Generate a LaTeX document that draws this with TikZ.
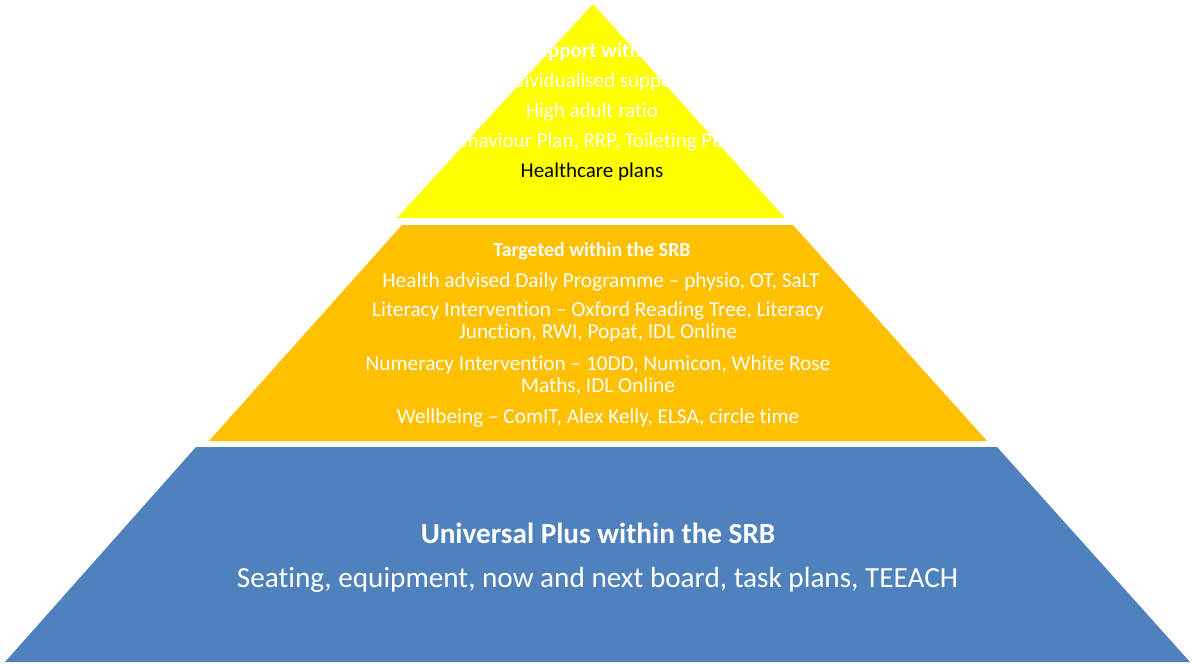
\documentclass[tikz,border=0pt]{standalone}
\usepackage{fontspec}
\setmainfont{Carlito}[Ligatures={NoCommon}]
\definecolor{pyyellow}{HTML}{FFFF00}
\definecolor{pyorange}{HTML}{FFC000}
\definecolor{pyblue}{HTML}{4F81BD}
\begin{document}
\begin{tikzpicture}[x=1pt,y=-1pt,
  toptxt/.style={anchor=base,text=white,inner sep=0pt,font=\fontsize{21}{24}\selectfont},
  midtxt/.style={anchor=base,text=white,inner sep=0pt,align=center,font=\fontsize{21.3}{21.5}\selectfont},
  bottxt/.style={anchor=base,text=white,inner sep=0pt,font=\fontsize{29.2}{30}\selectfont}]
\useasboundingbox[fill=white] (0,0) rectangle (1192,664);
% tiers
\fill[pyyellow] (593,4) -- (397,218) -- (785,218) -- cycle;
\fill[pyorange] (402,225) -- (793,225) -- (987,441) -- (209,441) -- cycle;
\fill[pyblue] (196,447) -- (997,447) -- (1190,662) -- (5,662) -- cycle;
% top tier text
\begin{scope}
\clip (593,4) -- (397,218) -- (785,218) -- cycle;
\node[toptxt,font=\bfseries\fontsize{21}{24}\selectfont] (t1) at (592,57) {Support within};
\node[toptxt] (t2) at (592,87) {Individualised support};
\node[toptxt] (t3) at (592,117) {High adult ratio};
\node[toptxt] (t4) at (592,147) {Behaviour Plan, RRP, Toileting Plan};
\end{scope}
\node[toptxt,text=black] (t5) at (592,177) {Healthcare plans};
% middle tier text
\node[midtxt,font=\bfseries\fontsize{19.9}{21}\selectfont] (m1) at (592,256) {Targeted within the SRB};
\node[midtxt] (m2) at (601,287) {Health advised Daily Programme – physio, OT, SaLT};
\node[midtxt] (m3) at (598,338) {Literacy Intervention – Oxford Reading Tree, Literacy\\Junction, RWI, Popat, IDL Online};
\node[midtxt] (m4) at (598,392) {Numeracy Intervention – 10DD, Numicon, White Rose\\Maths, IDL Online};
\node[midtxt] (m5) at (598,423) {Wellbeing – ComIT, Alex Kelly, ELSA, circle time};
% bottom tier text
\node[bottxt,font=\bfseries\fontsize{29.2}{30}\selectfont] (b1) at (598,543) {Universal Plus within the SRB};
\node[bottxt] (b2) at (597.5,587) {Seating, equipment, now and next board, task plans, TEEACH};
\end{tikzpicture}
\end{document}
